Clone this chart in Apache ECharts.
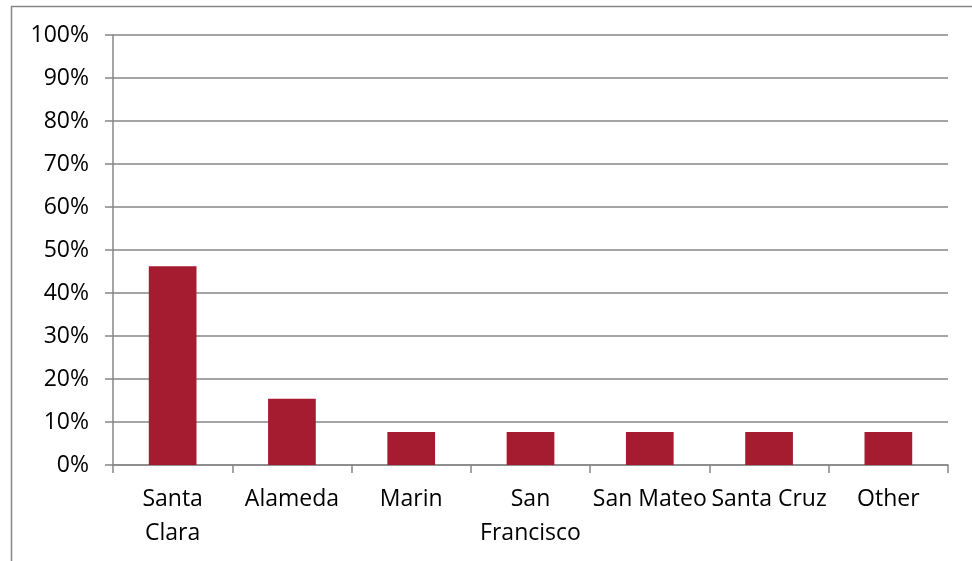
<!DOCTYPE html>
<html><head><meta charset="utf-8">
<script src="https://cdn.jsdelivr.net/npm/echarts@6/dist/echarts.min.js"></script>
<style>html,body{margin:0;padding:0;background:#fff}#c{width:972px;height:561px}</style>
</head><body><div id="c"></div>
<script>
const categories = ["Santa\nClara", "Alameda", "Marin", "San\nFrancisco", "San Mateo", "Santa Cruz", "Other"];
const shares = [46.2, 15.4, 7.7, 7.7, 7.7, 7.7, 7.7];
const yTicks = [0, 10, 20, 30, 40, 50, 60, 70, 80, 90, 100];

const chart = echarts.init(document.getElementById('c'), null, {renderer: 'canvas'});
const font = "'Open Sans', 'Noto Sans', sans-serif";
chart.setOption({
  animation: false,
  graphic: [{
    type: 'rect', shape: {x: 11.5, y: 6.5, width: 1000, height: 1000},
    style: {fill: 'none', stroke: '#878787', lineWidth: 1.5}, silent: true, z: -1
  }],
  grid: {left: 113, right: 24, top: 35, bottom: 96, containLabel: false},
  xAxis: {
    type: 'category', data: categories,
    axisLine: {lineStyle: {color: '#878787', width: 1.5}},
    axisTick: {show: true, length: 8, lineStyle: {color: '#878787', width: 1.5}},
    axisLabel: {color: '#000', fontSize: 23, fontFamily: font, margin: 17, lineHeight: 34, interval: 0}
  },
  yAxis: {
    type: 'value', min: 0, max: 100, interval: 10,
    axisLine: {show: true, lineStyle: {color: '#878787', width: 1.5}},
    axisTick: {show: true, length: 8, lineStyle: {color: '#878787', width: 1.5}},
    splitLine: {lineStyle: {color: '#878787', width: 1.5}},
    axisLabel: {color: '#000', fontSize: 23, fontFamily: font, margin: 24,
      formatter: v => yTicks.includes(v) ? v + '%' : ''}
  },
  series: [{
    type: 'bar', data: shares, barWidth: '40%',
    itemStyle: {color: '#A51C30'}
  }]
});
</script></body></html>
